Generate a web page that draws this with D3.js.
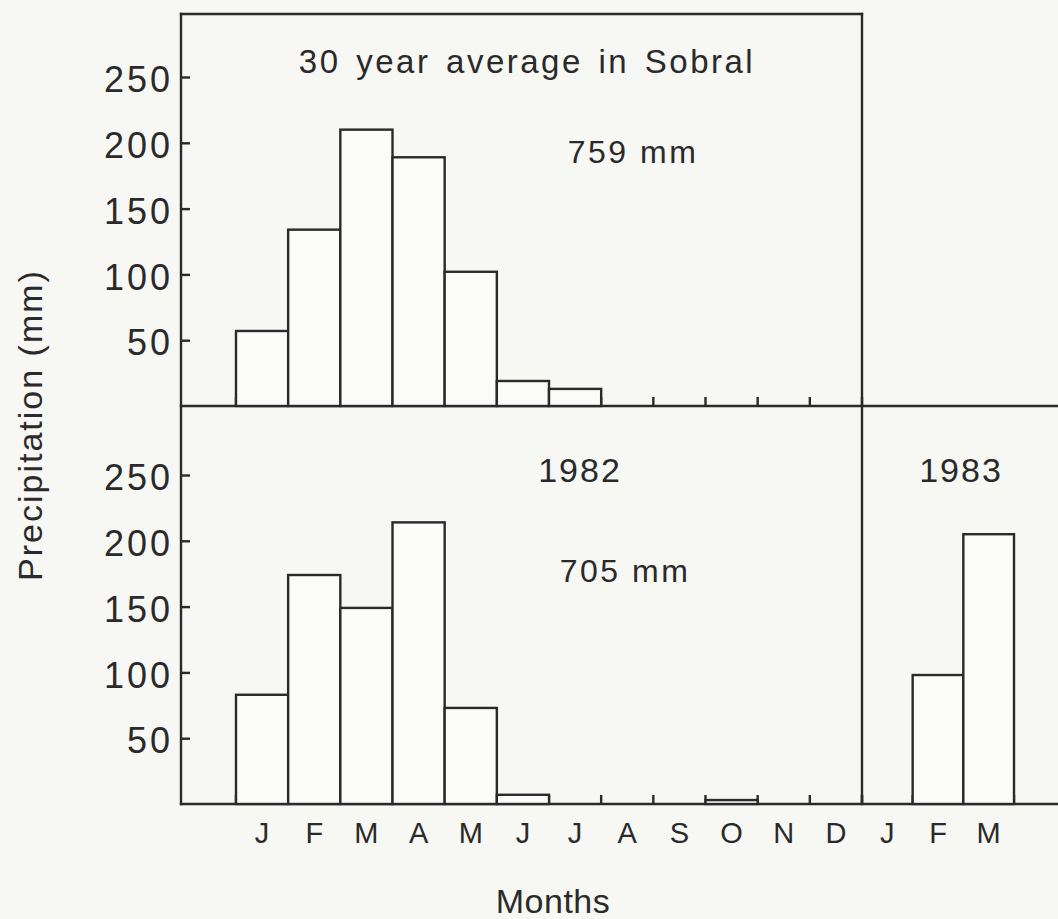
<!DOCTYPE html>
<html>
<head>
<meta charset="utf-8">
<script src="https://cdn.jsdelivr.net/npm/d3@7"></script>
<style>
  body { margin: 0; background: #f7f7f4; }
  text { font-family: 'Liberation Sans', sans-serif; fill: #2a2a2a; }
</style>
</head>
<body>
<svg id="chart"></svg>
<script>
// monthly precipitation (mm), Sobral
const months1982 = ['J', 'F', 'M', 'A', 'M', 'J', 'J', 'A', 'S', 'O', 'N', 'D']
const months1983 = ['J', 'F', 'M']
const avgValues = [57, 134, 210, 189, 102, 19, 13, 0, 0, 0, 0, 0]
const values1982 = [83, 174, 149, 214, 73, 7, 0, 0, 0, 3, 0, 0]
const values1983 = [0, 98, 205]
const yTicks = [50, 100, 150, 200, 250]

const width = 1058
const height = 919
const ink = '#2a2a2a'
const lw = 2.4

const svg = d3.select('#chart')
  .attr('width', width)
  .attr('height', height)

const axisX = 181
const frameTop = 14

const x82 = d3.scaleBand().domain(d3.range(12)).range([236, 862]).padding(0)
const x83 = d3.scaleBand().domain(d3.range(3)).range([862, 1014]).padding(0)

const yTop = d3.scaleLinear().domain([0, 250]).range([406, 77])
const yBot = d3.scaleLinear().domain([0, 250]).range([804, 475])

// frame lines
const lines = [
  [axisX, frameTop, x82.range()[1], frameTop],
  [axisX, frameTop, axisX, yBot(0)],
  [axisX, yTop(0), width, yTop(0)],
  [axisX, yBot(0), width, yBot(0)],
  [x82.range()[1], frameTop, x82.range()[1], yBot(0)]
]
svg.append('g').selectAll('line')
  .data(lines)
  .join('line')
  .attr('x1', d => d[0]).attr('y1', d => d[1])
  .attr('x2', d => d[2]).attr('y2', d => d[3])
  .attr('stroke', ink)
  .attr('stroke-width', lw)
  .attr('stroke-linecap', 'square')

function drawAxisY (y) {
  const g = svg.append('g')
    .attr('transform', 'translate(' + axisX + ',0)')
    .call(d3.axisRight(y).tickValues(yTicks).tickSize(9).tickFormat(''))
  g.select('.domain').remove()
  g.selectAll('.tick line').attr('stroke', ink).attr('stroke-width', lw)

  svg.append('g').selectAll('text')
    .data(yTicks)
    .join('text')
    .attr('x', axisX - 8)
    .attr('y', d => y(d))
    .attr('dy', '0.42em')
    .attr('text-anchor', 'end')
    .attr('font-size', 36)
    .attr('letter-spacing', 3)
    .text(d => d)
}

function drawBars (x, y, values) {
  const data = values.map((v, i) => ({ i, v })).filter(d => d.v > 0)
  svg.append('g').selectAll('rect')
    .data(data)
    .join('rect')
    .attr('x', d => x(d.i))
    .attr('y', d => y(d.v))
    .attr('width', x.bandwidth())
    .attr('height', d => y(0) - y(d.v))
    .attr('fill', '#fbfbf9')
    .attr('stroke', ink)
    .attr('stroke-width', lw)
}

function drawBoundaryTicks (x, y) {
  const edges = x.domain().map(i => x(i)).concat([x.range()[1]])
  svg.append('g').selectAll('line')
    .data(edges)
    .join('line')
    .attr('x1', d => d).attr('x2', d => d)
    .attr('y1', y(0)).attr('y2', y(0) - 9)
    .attr('stroke', ink)
    .attr('stroke-width', lw)
}

drawAxisY(yTop)
drawAxisY(yBot)

drawBoundaryTicks(x82, yTop)
drawBoundaryTicks(x82, yBot)
drawBoundaryTicks(x83, yBot)

drawBars(x82, yTop, avgValues)
drawBars(x82, yBot, values1982)
drawBars(x83, yBot, values1983)

// month labels
const labelY = 843
svg.append('g').selectAll('text')
  .data(months1982)
  .join('text')
  .attr('x', (d, i) => x82(i) + x82.bandwidth() / 2)
  .attr('y', labelY)
  .attr('text-anchor', 'middle')
  .attr('font-size', 29)
  .text(d => d)

svg.append('g').selectAll('text')
  .data(months1983)
  .join('text')
  .attr('x', (d, i) => x83(i) + x83.bandwidth() / 2)
  .attr('y', labelY)
  .attr('text-anchor', 'middle')
  .attr('font-size', 29)
  .text(d => d)

// annotations
const notes = [
  { text: '30 year average in Sobral', x: 527, y: 73, size: 33, ls: 2.5, ws: 4 },
  { text: '759 mm', x: 633, y: 163, size: 32, ls: 2.5, ws: 0 },
  { text: '1982', x: 580, y: 482, size: 34, ls: 2, ws: 0 },
  { text: '705 mm', x: 625, y: 582, size: 32, ls: 2.5, ws: 0 },
  { text: '1983', x: 961, y: 482, size: 34, ls: 2, ws: 0 }
]
svg.append('g').selectAll('text')
  .data(notes)
  .join('text')
  .attr('x', d => d.x)
  .attr('y', d => d.y)
  .attr('text-anchor', 'middle')
  .attr('font-size', d => d.size)
  .attr('letter-spacing', d => d.ls)
  .attr('word-spacing', d => d.ws)
  .text(d => d.text)

svg.append('text')
  .attr('x', 553)
  .attr('y', 913)
  .attr('text-anchor', 'middle')
  .attr('font-size', 34)
  .attr('letter-spacing', 0.5)
  .text('Months')

svg.append('text')
  .attr('transform', 'translate(42,425) rotate(-90)')
  .attr('text-anchor', 'middle')
  .attr('font-size', 34)
  .attr('letter-spacing', 2)
  .text('Precipitation (mm)')
</script>
</body>
</html>
